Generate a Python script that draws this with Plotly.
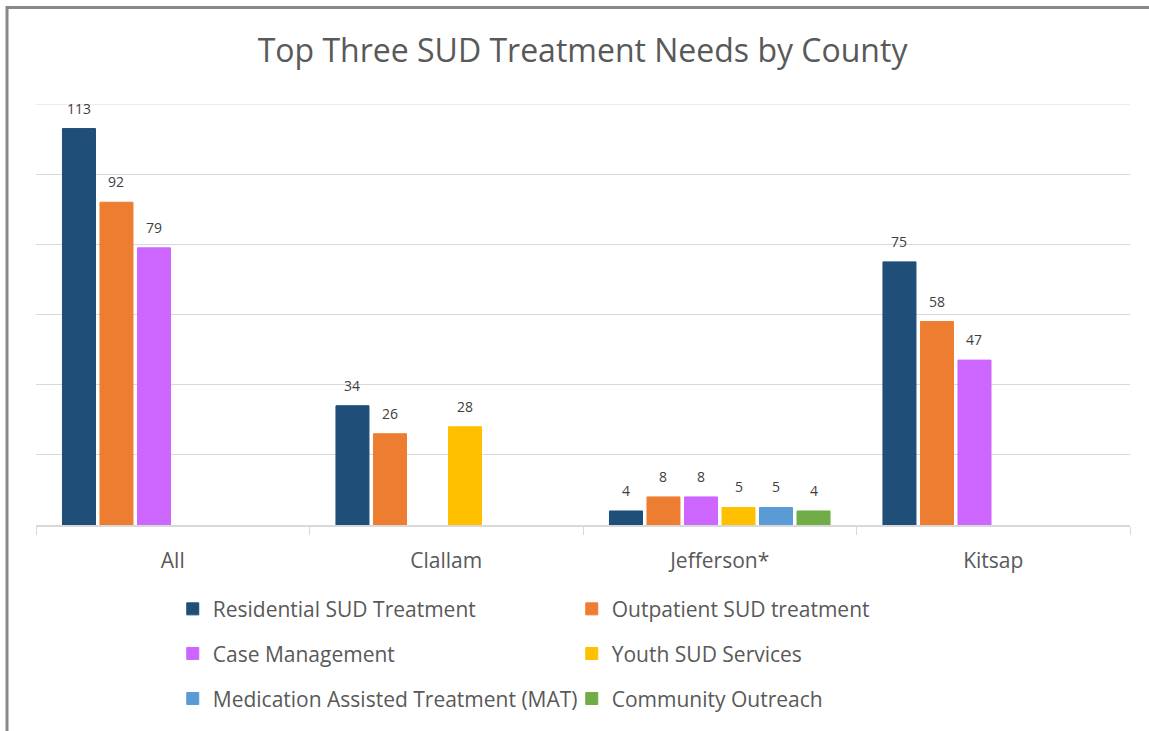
import plotly.graph_objects as go

counties = ["All", "Clallam", "Jefferson*", "Kitsap"]
series_names = [
    "Residential SUD Treatment",
    "Outpatient SUD treatment",
    "Case Management",
    "Youth SUD Services",
    "Medication Assisted Treatment (MAT)",
    "Community Outreach",
]
residential = [113, 34, 4, 75]
outpatient = [92, 26, 8, 58]
case_mgmt = [79, None, 8, 47]
youth = [None, 28, 5, None]
mat = [None, None, 5, None]
outreach = [None, None, 4, None]
colors = ["#1F4E79", "#ED7D31", "#CC66FF", "#FFC000", "#5B9BD5", "#70AD47"]
y_max = 120

values = [residential, outpatient, case_mgmt, youth, mat, outreach]
legend_ids = ["legend", "legend", "legend2", "legend2", "legend3", "legend3"]

FONT = "Open Sans"
W, H = 1149, 731
ML, MR, MT, MB = 36, 19, 104, 204
BARGAP = 0.177
n_series = len(series_names)
slot_px = (W - ML - MR) / len(counties) * (1 - BARGAP) / n_series

fig = go.Figure()
for i, (name, vals, col, lg) in enumerate(zip(series_names, values, colors, legend_ids)):
    fig.add_trace(go.Bar(
        x=counties, y=vals, name=name, marker_color=col,
        marker_line=dict(color=col, width=1),
        legend=lg,
    ))
    for c, v in zip(counties, vals):
        if v is None:
            continue
        fig.add_annotation(
            x=c, y=v, xref="x", yref="y", text=str(v), showarrow=False,
            xshift=(i - (n_series - 1) / 2) * slot_px, yshift=9,
            yanchor="bottom", font=dict(size=14, color="#404040", family=FONT),
        )

leg_common = dict(orientation="h", xanchor="left", yanchor="middle",
                  font=dict(size=21, color="#595959", family=FONT),
                  entrywidth=354, entrywidthmode="pixels", bgcolor="rgba(0,0,0,0)")

fig.update_layout(
    width=W, height=H,
    margin=dict(l=ML, r=MR, t=MT, b=MB),
    paper_bgcolor="white", plot_bgcolor="white",
    barmode="group", bargap=BARGAP, bargroupgap=0.12,
    title=dict(text="Top Three SUD Treatment Needs by County", x=0.507, xanchor="center",
               y=0.93, yanchor="middle",
               font=dict(size=32, color="#595959", family=FONT)),
    xaxis=dict(showline=True, linecolor="#D9D9D9", linewidth=1.5,
               ticks="outside", ticklen=8, tickcolor="#D9D9D9", tickson="boundaries",
               tickfont=dict(size=21, color="#595959", family=FONT),
               ticklabelstandoff=16),
    yaxis=dict(range=[0, y_max], tick0=0, dtick=20, showticklabels=False, showgrid=True,
               gridcolor="#D9D9D9", gridwidth=1, zeroline=False),
    legend=dict(x=0.125, y=-0.2, **leg_common),
    legend2=dict(x=0.125, y=-0.306, **leg_common),
    legend3=dict(x=0.125, y=-0.413, **leg_common),
    showlegend=True,
    shapes=[
        dict(type="rect", xref="paper", yref="paper", x0=-0.0265, x1=1.05,
             y0=-0.6, y1=1.229, line=dict(color="#888888", width=3), layer="below"),
        dict(type="line", xref="paper", yref="y", x0=0, x1=1, y0=y_max, y1=y_max,
             line=dict(color="#D9D9D9", width=1), layer="below"),
    ],
)

fig.write_html("out.html", config={"displayModeBar": False},
               post_script="document.body.style.margin='0';")
